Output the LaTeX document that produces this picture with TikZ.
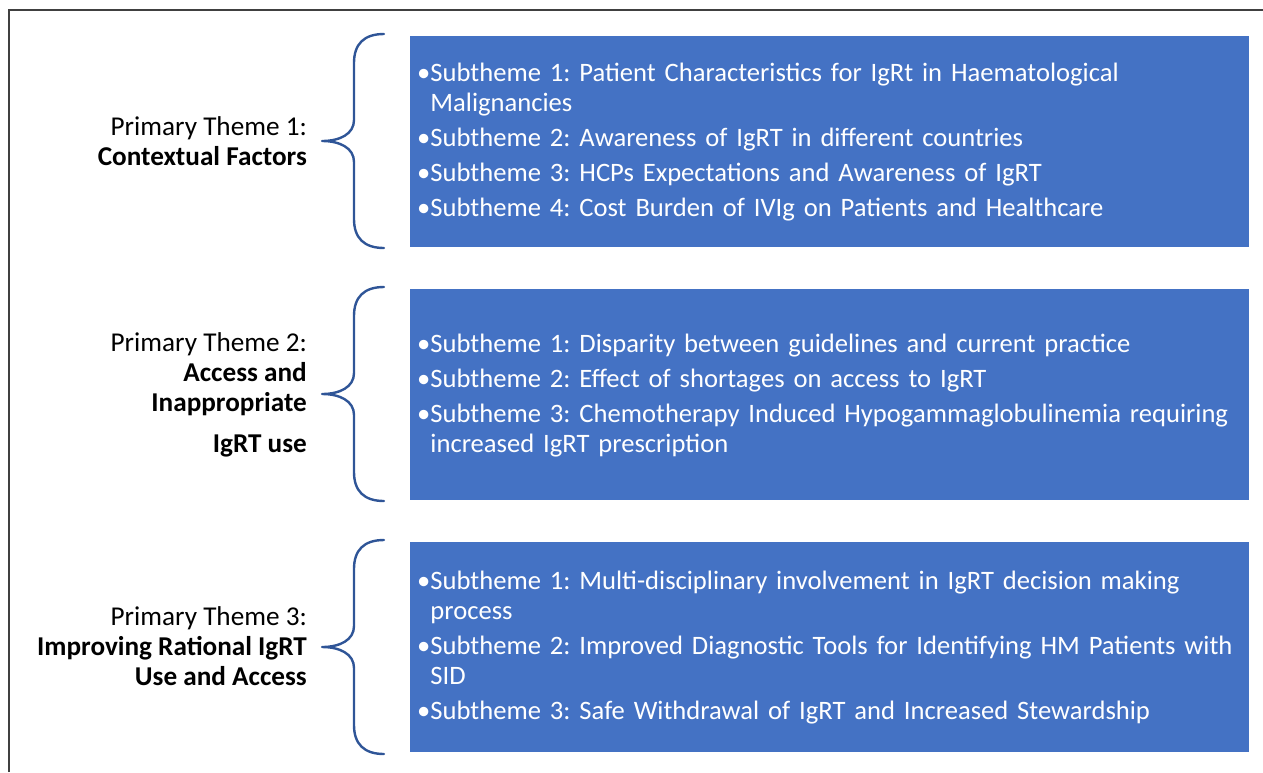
\documentclass[tikz,border=0pt]{standalone}
\usepackage{fontspec}
\setmainfont{Carlito}
\frenchspacing
\hyphenpenalty=10000
\definecolor{boxblue}{HTML}{4472C4}
\definecolor{braceblue}{HTML}{2F5597}
\definecolor{framegray}{HTML}{404040}
\begin{document}
\begin{tikzpicture}[x=1pt,y=-1pt,
  themebox/.style={fill=boxblue,draw=none},
  subtext/.style={anchor=north west,inner sep=0pt,text width=1000pt,align=left,
    text=white,font=\fontsize{26.6}{30}\selectfont},
  themelabel/.style={anchor=north east,inner sep=0pt,align=right,
    font=\fontsize{27.2}{30}\selectfont},
  bracket/.style={draw=braceblue,line width=2.4pt,line cap=round,line join=round}]
\useasboundingbox (0,0) rectangle (1263,772);

% frame lines
\draw[framegray,line width=1.3pt] (9,772) -- (9,10) -- (1263,10);

% blue subtheme boxes
\path[themebox] (410,36) rectangle (1249,247);
\path[themebox] (410,289) rectangle (1249,500);
\path[themebox] (410,542) rectangle (1249,752);

% curly brackets
\foreach \t in {34,287,540}{
  \draw[bracket] (384,\t) .. controls (364,\t+0) and (354,\t+10) .. (354,\t+29)
    -- (354,\t+86) .. controls (354,\t+100) and (340,\t+107) .. (322,\t+107)
    .. controls (340,\t+107) and (354,\t+114) .. (354,\t+128)
    -- (354,\t+185) .. controls (354,\t+204) and (364,\t+214) .. (384,\t+214);
}

% theme labels
\node[themelabel] (t1) at (307,114) {\strut Primary Theme 1:\\\textbf{Contextual Factors}};
\node[themelabel] (t2) at (307,330) {\strut Primary Theme 2:\\\textbf{Access and}\\\textbf{Inappropriate}\\[11pt]\textbf{IgRT use}};
\node[themelabel] (t3) at (307,604) {\strut Primary Theme 3:\\\textbf{Improving Rational IgRT}\\\textbf{Use and Access}};

% subtheme lists
\node[subtext] (s1) at (417,60) {\strut •Subtheme 1: Patient Characteristics for IgRt in Haematological\\
\phantom{•}Malignancies\\[5pt]
•Subtheme 2: Awareness of IgRT in different countries\\[5pt]
•Subtheme 3: HCPs Expectations and Awareness of IgRT\\[5pt]
•Subtheme 4: Cost Burden of IVIg on Patients and Healthcare};

\node[subtext] (s2) at (417,331) {\strut •Subtheme 1: Disparity between guidelines and current practice\\[5pt]
•Subtheme 2: Effect of shortages on access to IgRT\\[5pt]
•Subtheme 3: Chemotherapy Induced Hypogammaglobulinemia requiring\\
\phantom{•}increased IgRT prescription};

\node[subtext] (s3) at (417,568) {\strut •Subtheme 1: Multi-disciplinary involvement in IgRT decision making\\
\phantom{•}process\\[5pt]
•Subtheme 2: Improved Diagnostic Tools for Identifying HM Patients with\\
\phantom{•}SID\\[5pt]
•Subtheme 3: Safe Withdrawal of IgRT and Increased Stewardship};
\end{tikzpicture}
\end{document}
